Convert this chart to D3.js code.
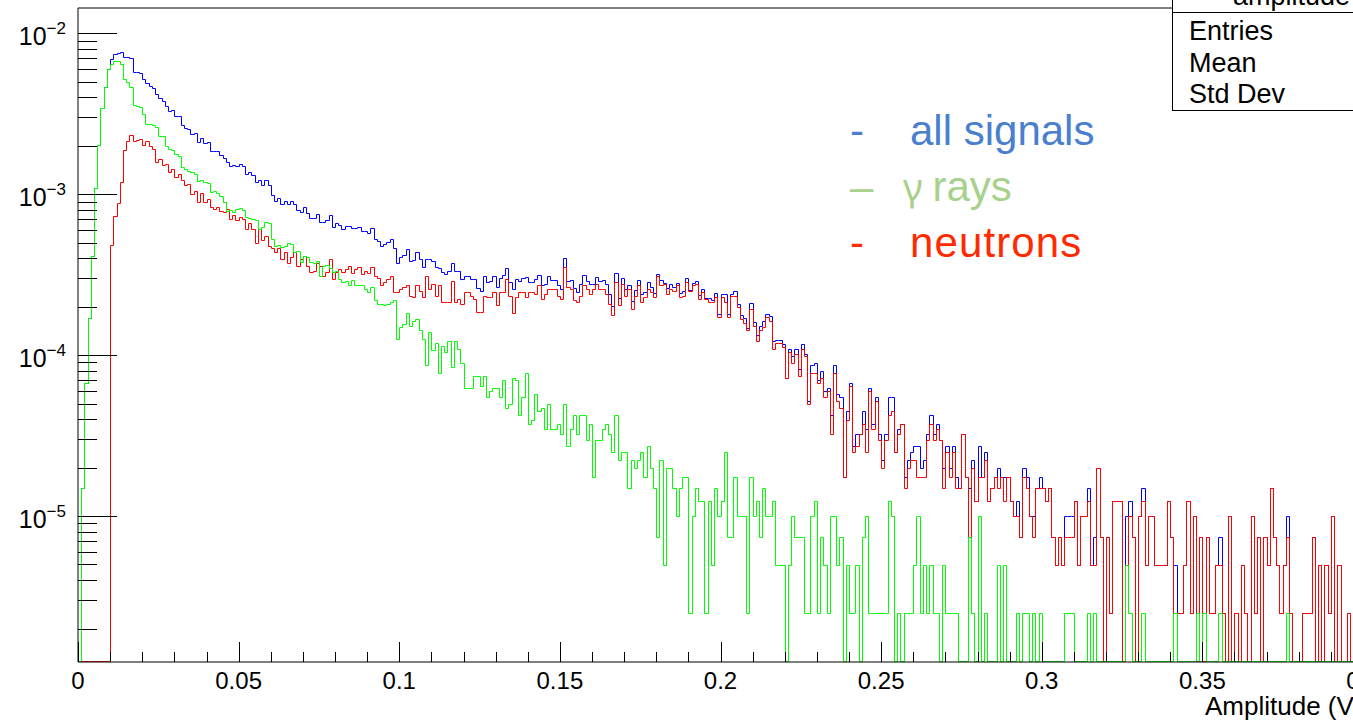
<!DOCTYPE html>
<html>
<head>
<meta charset="utf-8">
<script src="https://cdn.jsdelivr.net/npm/d3@7"></script>
<style>
body { margin: 0; background: #fff; }
svg { display: block; }
text { font-family: "Liberation Sans", Arial, Helvetica, sans-serif; }
</style>
</head>
<body>
<div id="chart"></div>
<script>
// histogram contents, entries per 0.001 V bin starting at 0 V
var gammaCounts = [
  0, 6, 27, 68, 167, 440, 817, 1380, 1860, 2410,
  2600, 2720, 2700, 2590, 2100, 2000, 1870, 1440, 1420, 1400,
  1270, 1100, 1100, 1080, 1050, 925, 920, 800, 770, 760,
  715, 695, 594, 580, 561, 552, 540, 486, 490, 480,
  475, 415, 420, 410, 392, 360, 316, 320, 310, 325,
  330, 320, 290, 285, 282, 280, 245, 250, 271, 265,
  212, 192, 195, 190, 192, 200, 198, 176, 178, 153,
  166, 164, 153, 150, 155, 125, 144, 146, 140, 132,
  134, 120, 114, 116, 110, 118, 109, 109, 109, 104,
  99, 106, 88, 84, 84, 82, 84, 86, 88, 51,
  60, 63, 74, 61, 66, 67, 58, 51, 35, 56,
  43, 48, 31, 46, 42, 49, 34, 49, 44, 36,
  25, 25, 25, 30, 30, 26, 30, 22, 24, 25,
  25, 22, 28, 19, 20, 29, 28, 17, 22, 31,
  15, 16, 23, 18, 19, 14, 20, 14, 14, 15,
  13, 20, 11, 14, 17, 13, 17, 17, 12, 15,
  7, 12, 12, 14, 15, 13, 10, 17, 9, 10,
  10, 6, 9, 8, 9, 10, 7, 11, 8, 6,
  3, 9, 2, 8, 8, 6, 4, 6, 7, 7,
  1, 4, 6, 5, 5, 1, 5, 2, 6, 4,
  5, 10, 3, 3, 7, 4, 4, 4, 1, 7,
  4, 5, 3, 6, 4, 4, 5, 2, 2, 2,
  0, 2, 4, 3, 3, 3, 1, 1, 4, 5,
  1, 3, 2, 1, 4, 4, 2, 3, 0, 2,
  1, 1, 2, 0, 3, 4, 1, 1, 1, 1,
  1, 1, 5, 4, 0, 1, 0, 1, 1, 1,
  2, 4, 1, 2, 1, 2, 1, 1, 0, 2,
  1, 1, 1, 1, 0, 0, 0, 3, 1, 0,
  4, 0, 1, 0, 0, 0, 2, 0, 2, 0,
  0, 0, 1, 0, 1, 1, 0, 1, 0, 1,
  0, 0, 0, 0, 0, 0, 0, 1, 1, 1,
  0, 0, 0, 0, 1, 0, 1, 0, 0, 0,
  0, 0, 0, 0, 0, 0, 2, 1, 0, 0,
  0, 1, 0, 0, 0, 0, 0, 0, 0, 0,
  0, 1, 0, 0, 0, 0, 0, 0, 1, 0,
  1, 0, 0, 0, 0, 1, 0, 0, 0, 0,
  0, 0, 0, 0, 0, 0, 0, 0, 0, 0,
  0, 0, 0, 0, 0, 0, 1, 0, 0, 0,
  0, 0, 0, 0, 0, 0, 0, 0, 0, 0,
  0, 0, 0, 0, 0, 0, 0, 0, 0, 0
];
var neutronCounts = [
  0, 0, 0, 0, 0, 0, 0, 0, 0, 0,
  195, 293, 355, 477, 760, 865, 944, 865, 880, 890,
  813, 865, 805, 770, 640, 670, 610, 620, 555, 575,
  515, 535, 490, 457, 465, 405, 420, 360, 410, 360,
  375, 333, 325, 333, 318, 313, 325, 283, 300, 277,
  290, 283, 245, 268, 245, 200, 245, 210, 220, 192,
  186, 175, 186, 160, 175, 150, 165, 175, 144, 160,
  167, 144, 132, 135, 150, 144, 125, 132, 160, 120,
  132, 138, 132, 138, 144, 131, 138, 141, 128, 135,
  131, 141, 125, 122, 109, 114, 120, 125, 99, 99,
  104, 106, 109, 94, 92, 109, 101, 92, 125, 104,
  111, 94, 109, 86, 86, 86, 117, 86, 90, 84,
  99, 99, 94, 90, 75, 75, 94, 92, 92, 99,
  82, 99, 99, 120, 94, 74, 92, 99, 99, 92,
  99, 99, 97, 109, 90, 97, 104, 104, 104, 94,
  90, 141, 106, 104, 88, 86, 94, 109, 104, 97,
  104, 111, 104, 104, 96, 84, 71, 114, 82, 111,
  94, 104, 78, 94, 109, 86, 92, 104, 99, 92,
  125, 109, 111, 97, 104, 101, 109, 92, 94, 114,
  101, 109, 111, 90, 99, 90, 86, 86, 92, 69,
  92, 86, 69, 94, 94, 80, 67, 64, 58, 78,
  61, 49, 58, 60, 69, 66, 44, 48, 48, 45,
  29, 42, 36, 41, 30, 44, 40, 20, 31, 31,
  27, 29, 22, 24, 13, 31, 21, 19, 7, 16,
  26, 10, 11, 13, 15, 10, 24, 14, 21, 12,
  8, 12, 17, 18, 10, 13, 15, 6, 8, 9,
  9, 7, 7, 7, 12, 15, 12, 14, 12, 6,
  10, 7, 10, 6, 6, 13, 7, 3, 8, 5,
  7, 7, 9, 5, 6, 7, 6, 7, 5, 7,
  5, 4, 4, 3, 7, 6, 4, 3, 6, 6,
  6, 5, 6, 3, 2, 3, 2, 3, 3, 3,
  5, 2, 4, 4, 5, 2, 2, 8, 3, 0,
  3, 1, 5, 5, 5, 0, 2, 4, 3, 0,
  4, 5, 2, 4, 4, 2, 2, 2, 2, 5,
  3, 1, 1, 1, 2, 5, 1, 4, 0, 3,
  0, 3, 1, 1, 2, 2, 1, 0, 4, 0,
  1, 0, 2, 1, 0, 4, 1, 3, 0, 3,
  2, 6, 3, 2, 1, 2, 3, 1, 0, 0,
  0, 1, 1, 1, 3, 0, 2, 0, 2, 1,
  4, 0, 2, 0, 0, 1, 0, 2, 1, 0
];
var allCounts = [
  0, 6, 27, 68, 167, 440, 817, 1380, 1860, 2410,
  2795, 3013, 3055, 3067, 2860, 2865, 2814, 2305, 2300, 2290,
  2083, 1965, 1905, 1850, 1690, 1595, 1530, 1420, 1325, 1335,
  1230, 1230, 1084, 1037, 1026, 957, 960, 846, 900, 840,
  850, 748, 745, 743, 710, 673, 641, 603, 610, 602,
  620, 603, 535, 553, 527, 480, 490, 460, 491, 457,
  398, 367, 381, 350, 367, 350, 363, 351, 322, 313,
  333, 308, 285, 285, 305, 269, 269, 278, 300, 252,
  266, 258, 246, 254, 254, 249, 247, 250, 237, 239,
  230, 247, 213, 206, 193, 196, 204, 211, 187, 150,
  164, 169, 183, 155, 158, 176, 159, 143, 160, 160,
  154, 142, 140, 132, 128, 135, 151, 135, 134, 120,
  124, 124, 119, 120, 105, 101, 124, 114, 116, 124,
  107, 121, 127, 139, 114, 103, 120, 116, 121, 123,
  114, 115, 120, 127, 109, 111, 124, 118, 118, 109,
  103, 161, 117, 118, 105, 99, 111, 126, 116, 112,
  111, 123, 116, 118, 111, 97, 81, 131, 91, 121,
  104, 110, 87, 102, 118, 96, 99, 115, 107, 98,
  128, 118, 113, 105, 112, 107, 113, 98, 101, 121,
  102, 113, 117, 95, 104, 91, 91, 88, 98, 73,
  97, 96, 72, 97, 101, 84, 71, 68, 59, 85,
  65, 54, 61, 66, 73, 70, 49, 50, 50, 47,
  29, 44, 40, 44, 33, 47, 41, 21, 35, 36,
  28, 32, 24, 25, 17, 35, 23, 22, 7, 18,
  27, 11, 13, 13, 18, 14, 25, 15, 22, 13,
  9, 13, 22, 22, 10, 14, 15, 7, 9, 10,
  11, 11, 8, 9, 13, 17, 13, 15, 12, 8,
  11, 8, 11, 7, 6, 13, 7, 6, 9, 5,
  11, 7, 10, 5, 6, 7, 8, 7, 7, 7,
  5, 4, 5, 3, 8, 7, 4, 4, 6, 7,
  6, 5, 6, 3, 2, 3, 2, 4, 4, 4,
  5, 2, 4, 4, 6, 2, 3, 8, 3, 0,
  3, 1, 5, 5, 5, 0, 4, 5, 3, 0,
  4, 6, 2, 4, 4, 2, 2, 2, 2, 5,
  3, 2, 1, 1, 2, 5, 1, 4, 1, 3,
  1, 3, 1, 1, 2, 3, 1, 0, 4, 0,
  1, 0, 2, 1, 0, 4, 1, 3, 0, 3,
  2, 6, 3, 2, 1, 2, 4, 1, 0, 0,
  0, 1, 1, 1, 3, 0, 2, 0, 2, 1,
  4, 0, 2, 0, 0, 1, 0, 2, 1, 0
];
var entryWeight = 2.45e-6;   // normalisation of one entry
var binWidth = 0.001;
var xTickValues = [0, 0.05, 0.1, 0.15, 0.2, 0.25, 0.3, 0.35, 0.4];
var xTickLabels = ["0", "0.05", "0.1", "0.15", "0.2", "0.25", "0.3", "0.35", "0.4"];
var yDecades = [-5, -4, -3, -2];
var statsLabels = ["Entries", "Mean", "Std Dev"];
var legendLabels = ["all signals", "rays", "neutrons"];
var legendDashes = ["-", "\u2013", "-"];

var width = 1353, height = 723;
var frameLeft = 78, frameRight = 1363, frameTop = 8, frameBottom = 662;
var yMin = 1.239e-6, yMax = 0.01436;

var svg = d3.select('#chart')
            .append('svg')
            .attr('width', width)
            .attr('height', height);
svg.append('rect').attr('width', width).attr('height', height).attr('fill', '#fff');

var x = d3.scaleLinear().domain([0, 0.4]).range([frameLeft, frameRight]);
var y = d3.scaleLog().domain([yMin, yMax]).range([frameBottom, frameTop]);

// ----- histograms -----
svg.append('clipPath').attr('id', 'frameClip')
   .append('rect')
   .attr('x', frameLeft).attr('y', frameTop - 1)
   .attr('width', frameRight - frameLeft).attr('height', frameBottom - frameTop + 2);

function stepPoints(counts) {
    var pts = [[0, yMin]];
    counts.forEach(function(c, i) {
        var v = c > 0 ? c * entryWeight : yMin;
        pts.push([i * binWidth, v]);
        pts.push([(i + 1) * binWidth, v]);
    });
    pts.push([counts.length * binWidth, yMin]);
    return pts;
}
// snap to pixel centres so overlapping outlines cover each other cleanly
var line = d3.line()
             .x(d => Math.round(x(d[0])) + 0.5)
             .y(d => Math.round(y(Math.max(d[1], yMin))) - 0.5);

var g_hist = svg.append('g').attr('clip-path', 'url(#frameClip)');
[[allCounts, '#0000ff'], [neutronCounts, '#ff0000'], [gammaCounts, '#00ff00']].forEach(function(s) {
    g_hist.append('path')
          .attr('d', line(stepPoints(s[0])))
          .attr('fill', 'none')
          .attr('stroke', s[1])
          .attr('stroke-width', 1);
});

// ----- frame / axes -----
svg.append('line').attr('x1', frameLeft).attr('x2', frameRight)
   .attr('y1', frameTop).attr('y2', frameTop).attr('stroke', '#000').attr('stroke-width', 1);
svg.append('line').attr('x1', frameLeft).attr('x2', frameLeft)
   .attr('y1', frameTop).attr('y2', frameBottom).attr('stroke', '#000').attr('stroke-width', 1);
svg.append('line').attr('x1', frameLeft).attr('x2', frameRight)
   .attr('y1', frameBottom).attr('y2', frameBottom).attr('stroke', '#000').attr('stroke-width', 1);

// y ticks (log): major at decades, minor at 2..9
var g_y = svg.append('g');
var yMinor = [];
for (var d = -6; d <= -2; d++) {
    for (var m = 2; m <= 9; m++) {
        var v = m * Math.pow(10, d);
        if (v > yMin && v < yMax) yMinor.push(v);
    }
}
g_y.selectAll('line.minor').data(yMinor).join('line')
   .attr('x1', frameLeft).attr('x2', frameLeft + 19)
   .attr('y1', d => Math.round(y(d)) + 0.5).attr('y2', d => Math.round(y(d)) + 0.5)
   .attr('stroke', '#000');
g_y.selectAll('line.major').data(yDecades).join('line')
   .attr('x1', frameLeft).attr('x2', frameLeft + 39)
   .attr('y1', d => Math.round(y(Math.pow(10, d))) + 0.5).attr('y2', d => Math.round(y(Math.pow(10, d))) + 0.5)
   .attr('stroke', '#000');
var yLab = g_y.selectAll('text').data(yDecades).join('text')
   .attr('x', 66)
   .attr('y', d => y(Math.pow(10, d)) + 12)
   .attr('text-anchor', 'end')
   .style('font-size', '25px');
yLab.append('tspan').text('10');
yLab.append('tspan').attr('dy', -11).style('font-size', '17px').text(d => '\u2212' + (-d));

// x ticks: minor every 0.01, major every 0.05
var xMinor = d3.range(0, 41).map(i => i / 100);
var g_x = svg.append('g');
g_x.selectAll('line').data(xMinor).join('line')
   .attr('x1', d => Math.round(x(d)) + 0.5).attr('x2', d => Math.round(x(d)) + 0.5)
   .attr('y1', frameBottom)
   .attr('y2', (d, i) => i % 5 === 0 ? frameBottom - 20 : frameBottom - 10)
   .attr('stroke', '#000');
g_x.selectAll('text').data(xTickValues).join('text')
   .attr('x', d => x(d))
   .attr('y', 689)
   .attr('text-anchor', 'middle')
   .style('font-size', '24px')
   .text((d, i) => xTickLabels[i]);
svg.append('text')
   .attr('x', 1205)
   .attr('y', 715)
   .style('font-size', '26px')
   .text('Amplitude (V)');

// ----- stats box (cut by the picture edge) -----
var g_stats = svg.append('g');
g_stats.append('rect')
   .attr('x', 1172.5).attr('y', -20).attr('width', 240).attr('height', 130.5)
   .attr('fill', '#fff').attr('stroke', '#000').attr('stroke-width', 1);
g_stats.append('line').attr('x1', 1172.5).attr('x2', 1413).attr('y1', 12.5).attr('y2', 12.5)
   .attr('stroke', '#000');
g_stats.append('text').attr('x', 1233).attr('y', 5).style('font-size', '27px').text('amplitude');
g_stats.selectAll('text.lab').data(statsLabels).join('text')
   .attr('class', 'lab')
   .attr('x', 1189)
   .attr('y', (d, i) => 40 + i * 31.5)
   .style('font-size', '27px')
   .text(d => d);

// ----- legend text -----
var legendColors = ['#4a7fd0', '#a9d18e', '#ff2a00'];
var g_leg = svg.append('g').style('font-family', 'Lato, "Open Sans", sans-serif');
g_leg.selectAll('text.dash').data(legendDashes).join('text')
   .attr('class', 'dash')
   .attr('x', 850)
   .attr('y', (d, i) => 145 + i * 56)
   .style('font-size', '42px')
   .attr('fill', (d, i) => legendColors[i])
   .text(d => d);
var legLab = g_leg.selectAll('text.lab').data(legendLabels).join('text')
   .attr('class', 'lab')
   .attr('x', (d, i) => i === 1 ? 903 : 910)
   .attr('y', (d, i) => 145 + i * 56)
   .style('font-size', '42px')
   .style('letter-spacing', (d, i) => i === 2 ? '1.1px' : '0px')
   .attr('fill', (d, i) => legendColors[i]);
legLab.filter((d, i) => i === 1).append('tspan')
   .style('font-family', '"Noto Sans", "DejaVu Sans", sans-serif')
   .style('font-size', '38px')
   .text('\u03b3 ');
legLab.append('tspan').text(d => d);
</script>
</body>
</html>
